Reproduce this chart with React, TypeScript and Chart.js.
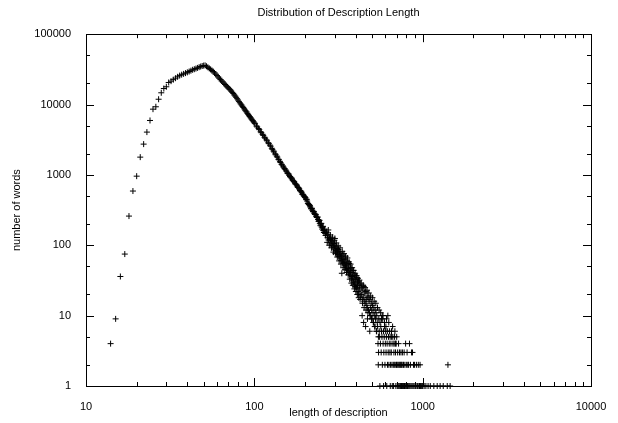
import { useEffect, useRef } from "react";
import { Chart, registerables } from "chart.js";

Chart.register(...registerables);

const titleText = "Distribution of Description Length";
const xAxisTitle = "length of description";
const yAxisTitle = "number of words";
const xTickLabels = [10, 100, 1000, 10000];
const yTickLabels = [1, 10, 100, 1000, 10000, 100000];
const xMinorTicks = [20, 30, 40, 50, 60, 70, 80, 90, 200, 300, 400, 500, 600, 700, 800, 900, 2000, 3000, 4000, 5000, 6000, 7000, 8000, 9000];
const yMinorTicks = [2, 5, 20, 50, 200, 500, 2000, 5000, 20000, 50000];

// rise and peak
const lengthsA = [14, 15, 16, 17, 18, 19, 20, 21, 22, 23, 24, 25, 26, 27, 28, 29, 30, 31, 32, 33, 34, 35, 36, 37, 38, 39, 40, 41, 42, 43, 44, 45, 46, 47, 48, 49, 50, 51, 52, 53, 54, 55, 56, 57, 58, 59, 60];
const countsA = [4, 9, 36, 75, 260, 590, 960, 1790, 2740, 4060, 5940, 8600, 9300, 11900, 14700, 16900, 17900, 20600, 21500, 22600, 23700, 24800, 25800, 26600, 27300, 28000, 28700, 29500, 30300, 31200, 31800, 32500, 33200, 34000, 34700, 35300, 35800, 36000, 35000, 33800, 32600, 31600, 30500, 29400, 28200, 27000, 25800];

// steady decline
const lengthsB = [62, 64, 66, 68, 70, 72, 74, 76, 78, 80, 82, 84, 86, 88, 90, 92, 94, 96, 98, 100, 103, 106, 109, 112, 115, 118, 121, 124, 127, 130, 133, 136, 139, 142, 145, 148, 151, 154, 157, 160, 163, 166, 169, 172, 175, 178, 181, 184, 187, 190, 193, 196, 199, 202, 205, 208, 211, 214, 217, 220, 223, 226, 229, 232, 235, 238, 241, 244, 247, 250, 253, 256, 259, 262, 265, 268];
const countsB = [23700, 21600, 20100, 18500, 17300, 16200, 14900, 13700, 12700, 11600, 10600, 9850, 9100, 8350, 7850, 7200, 6750, 6250, 5900, 5500, 4950, 4560, 4100, 3780, 3430, 3150, 2860, 2650, 2390, 2190, 1990, 1850, 1670, 1560, 1420, 1340, 1230, 1170, 1070, 1030, 950, 910, 840, 810, 750, 725, 670, 650, 600, 585, 530, 515, 490, 470, 450, 395, 380, 365, 330, 335, 300, 300, 275, 272, 250, 252, 218, 226, 190, 205, 170, 186, 152, 170, 138, 155];

// steady decline, in-between lengths
const lengthsG = [61, 63, 65, 67, 69, 71, 73, 75, 77, 79, 81, 83, 85, 87, 89, 91, 93, 95, 97, 99, 101, 104, 107, 110, 113, 116, 119, 122, 125, 128, 131, 134, 137, 140, 143, 146, 149, 152, 155, 158, 161, 164, 167, 170, 173, 176, 179, 182, 185, 188, 191, 194, 197, 200, 203, 206, 209, 212, 215, 218, 221, 224, 227, 230, 233, 236, 239, 242, 245, 248, 251, 254, 257, 260, 263, 266];
const countsG = [24700, 22600, 20900, 19300, 17900, 16700, 15500, 14400, 13200, 12100, 11100, 10200, 9450, 8700, 8100, 7500, 6950, 6500, 6050, 5700, 5350, 4800, 4400, 3980, 3650, 3330, 3050, 2780, 2560, 2310, 2120, 1930, 1790, 1640, 1500, 1390, 1290, 1210, 1130, 1050, 990, 930, 880, 825, 790, 740, 700, 665, 630, 590, 560, 530, 500, 480, 445, 425, 390, 375, 350, 335, 315, 305, 285, 278, 258, 248, 232, 228, 205, 200, 182, 180, 162, 165, 148, 150];

// widening scatter (even lengths)
const lengthsC = [270, 272, 274, 276, 278, 280, 282, 284, 286, 288, 290, 292, 294, 296, 298, 300, 301, 302, 304, 306, 308, 310, 312, 314, 316, 318, 320, 322, 324, 326, 328, 330, 331, 332, 334, 336, 338, 340, 342, 344, 346, 348, 350, 352, 354, 356, 358, 360, 362, 364, 366, 368, 370, 372, 374, 376, 378, 380, 382, 384, 386, 388, 390, 392, 394, 396, 398, 400, 402, 404, 406, 408, 410, 412, 414, 416, 418, 420, 423, 426, 429, 432, 435, 437, 438, 441, 444, 446, 447, 450, 453, 456, 458, 459, 462, 465, 468, 470, 471, 474, 477, 480, 483, 485, 486, 489, 492, 495, 498, 501, 504, 507, 510, 513, 516, 519, 522, 525, 528, 531, 534, 537, 540];
const countsC = [150, 128, 141, 119, 131, 125, 108, 121, 104, 116, 99, 112, 95, 106, 88, 101, 125, 92, 84, 97, 78, 90, 81, 74, 87, 69, 80, 72, 66, 77, 61, 70, 40, 64, 58, 73, 55, 63, 57, 52, 66, 49, 58, 51, 46, 60, 44, 53, 47, 41, 55, 39, 46, 42, 37, 48, 34, 41, 36, 32, 44, 30, 37, 33, 28, 38, 26, 33, 29, 25, 35, 24, 30, 27, 22, 31, 21, 27, 24, 19, 28, 20, 25, 10, 17, 23, 18, 8, 26, 16, 21, 15, 7, 22, 17, 14, 19, 9, 13, 18, 12, 16, 11, 6, 17, 13, 10, 15, 12, 9, 14, 11, 8, 13, 10, 7, 12, 9, 11, 6, 10, 8, 7];

// widening scatter (odd lengths)
const lengthsF = [271, 275, 279, 283, 287, 291, 295, 299, 303, 307, 311, 315, 319, 323, 327, 333, 337, 341, 345, 349, 353, 357, 361, 365, 369, 373, 377, 381, 385, 389, 393, 397, 401, 405, 409, 413, 417, 421, 425, 431, 439, 443, 449, 455, 461, 467, 473, 479, 487, 491, 497, 503, 509, 515, 521, 527, 533, 539, 546, 551, 563, 569, 581, 593, 605, 617, 629, 641, 653, 665, 677, 689];
const countsF = [110, 165, 100, 140, 92, 130, 80, 118, 76, 108, 68, 98, 60, 92, 54, 82, 48, 76, 45, 70, 41, 66, 38, 58, 33, 54, 29, 48, 27, 44, 24, 40, 22, 37, 20, 34, 18, 32, 17, 29, 15, 27, 13, 25, 12, 23, 11, 21, 10, 19, 9, 18, 8, 16, 7, 15, 6, 13, 5, 12, 11, 9, 10, 8, 7, 6, 8, 5, 6, 5, 4, 4];

// low-count rows
const lengthsD = [543, 545, 547, 549, 552, 555, 557, 558, 561, 564, 567, 570, 573, 575, 576, 579, 582, 585, 586, 588, 591, 594, 597, 600, 603, 606, 609, 610, 612, 615, 618, 621, 624, 627, 630, 633, 636, 639, 642, 645, 648, 651, 654, 657, 660, 663, 666, 669, 672, 675, 678, 681, 684, 687, 690, 693, 696, 699, 701];
const countsD = [4, 2, 3, 9, 6, 5, 1, 8, 4, 7, 3, 6, 5, 10, 2, 9, 4, 6, 1, 3, 5, 7, 2, 4, 6, 3, 5, 9, 1, 4, 2, 10, 3, 5, 2, 4, 6, 3, 1, 2, 4, 3, 5, 2, 1, 7, 4, 2, 1, 3, 2, 5, 6, 2, 3, 1, 4, 2, 5];

// long tail
const lengthsE = [704, 707, 710, 713, 716, 719, 722, 725, 728, 731, 734, 737, 740, 743, 746, 749, 752, 755, 758, 761, 764, 767, 770, 773, 776, 780, 784, 788, 792, 796, 800, 804, 808, 812, 816, 820, 825, 830, 835, 840, 846, 852, 858, 864, 870, 876, 882, 888, 895, 902, 910, 918, 926, 934, 942, 950, 958, 965, 972, 980, 990, 1000, 1020, 1045, 1077, 1110, 1165, 1220, 1270, 1325, 1400, 1413, 1456];
const countsE = [2, 1, 3, 2, 1, 4, 2, 1, 3, 2, 1, 2, 1, 3, 2, 1, 2, 1, 3, 1, 2, 1, 2, 1, 3, 1, 2, 1, 4, 1, 2, 1, 3, 1, 2, 1, 2, 1, 4, 1, 2, 1, 3, 1, 3, 1, 2, 1, 2, 1, 1, 2, 1, 1, 2, 1, 1, 2, 1, 1, 1, 1, 1, 1, 1, 1, 1, 1, 1, 1, 1, 2, 1];

const FONT = "'Liberation Sans', Arial, Helvetica, sans-serif";

function pairs(xs: number[], ys: number[]) {
  return xs.map((x, i) => ({ x, y: ys[i] }));
}

const framePlugin = {
  id: "gnuplotFrame",
  beforeDatasetsDraw(chart: any) {
    const { ctx, chartArea } = chart;
    const { left, right, top, bottom } = chartArea;
    const xs = chart.scales.x;
    const ys = chart.scales.y;
    ctx.save();
    ctx.strokeStyle = "#000";
    ctx.lineWidth = 1;
    ctx.beginPath();
    const major = 8;
    const minor = 4;
    const drawX = (v: number, len: number) => {
      const px = Math.round(xs.getPixelForValue(v)) + 0.5;
      ctx.moveTo(px, bottom);
      ctx.lineTo(px, bottom - len);
      ctx.moveTo(px, top);
      ctx.lineTo(px, top + len);
    };
    const drawY = (v: number, len: number) => {
      const py = Math.round(ys.getPixelForValue(v)) + 0.5;
      ctx.moveTo(left, py);
      ctx.lineTo(left + len, py);
      ctx.moveTo(right, py);
      ctx.lineTo(right - len, py);
    };
    xTickLabels.forEach((v) => drawX(v, major));
    xMinorTicks.forEach((v) => drawX(v, minor));
    yTickLabels.forEach((v) => drawY(v, major));
    yMinorTicks.forEach((v) => drawY(v, minor));
    ctx.stroke();
    ctx.strokeRect(Math.round(left) + 0.5, Math.round(top) + 0.5, Math.round(right - left), Math.round(bottom - top));
    ctx.restore();
  },
};

export default function App() {
  const ref = useRef<HTMLCanvasElement>(null);
  useEffect(() => {
    document.body.style.margin = "0";
    const points = [
      ...pairs(lengthsA, countsA),
      ...pairs(lengthsB, countsB),
      ...pairs(lengthsG, countsG),
      ...pairs(lengthsC, countsC),
      ...pairs(lengthsF, countsF),
      ...pairs(lengthsD, countsD),
      ...pairs(lengthsE, countsE),
    ];
    const font = { family: FONT, size: 11, weight: "normal" as const };
    const chart = new Chart(ref.current!, {
      type: "scatter",
      data: {
        datasets: [
          {
            data: points,
            pointStyle: "cross",
            pointRadius: 3,
            pointHoverRadius: 3,
            pointBorderWidth: 1,
            pointBorderColor: "#000",
            pointBackgroundColor: "#000",
            clip: false as any,
          },
        ],
      },
      options: {
        animation: false,
        responsive: false,
        devicePixelRatio: 1,
        events: [],
        layout: { padding: { left: 0, right: 27, top: 0, bottom: 0 } },
        plugins: {
          legend: { display: false },
          tooltip: { enabled: false },
          title: {
            display: true,
            text: titleText,
            fullSize: false,
            color: "#000",
            font,
            padding: { top: 6, bottom: 15 },
          },
        },
        scales: {
          x: {
            type: "logarithmic",
            position: "bottom",
            min: 10,
            max: 10000,
            grid: { display: false },
            border: { display: false },
            afterBuildTicks: (s: any) => {
              s.ticks = xTickLabels.map((v) => ({ value: v }));
            },
            afterFit: (s: any) => {
              s.height = 37;
            },
            ticks: {
              autoSkip: false,
              maxRotation: 0,
              padding: 6,
              color: "#000",
              font,
              callback: (v: any) => String(v),
            },
            title: {
              display: true,
              text: xAxisTitle,
              color: "#000",
              font,
              padding: { top: 0, bottom: 3 },
            },
          },
          y: {
            type: "logarithmic",
            position: "left",
            min: 1,
            max: 100000,
            grid: { display: false },
            border: { display: false },
            afterBuildTicks: (s: any) => {
              s.ticks = yTickLabels.map((v) => ({ value: v }));
            },
            afterFit: (s: any) => {
              s.width = 86;
            },
            ticks: {
              autoSkip: false,
              padding: 7,
              color: "#000",
              font,
              callback: (v: any) => String(v),
            },
            title: {
              display: true,
              text: yAxisTitle,
              color: "#000",
              font,
              padding: { top: 10, bottom: 0 },
            },
          },
        },
      },
      plugins: [framePlugin],
    });
    return () => chart.destroy();
  }, []);
  return (
    <div style={{ position: "absolute", left: 0, top: 0, width: 618, height: 423, background: "#fff" }}>
      <canvas ref={ref} width={618} height={423} style={{ width: 618, height: 423, display: "block" }} />
    </div>
  );
}
